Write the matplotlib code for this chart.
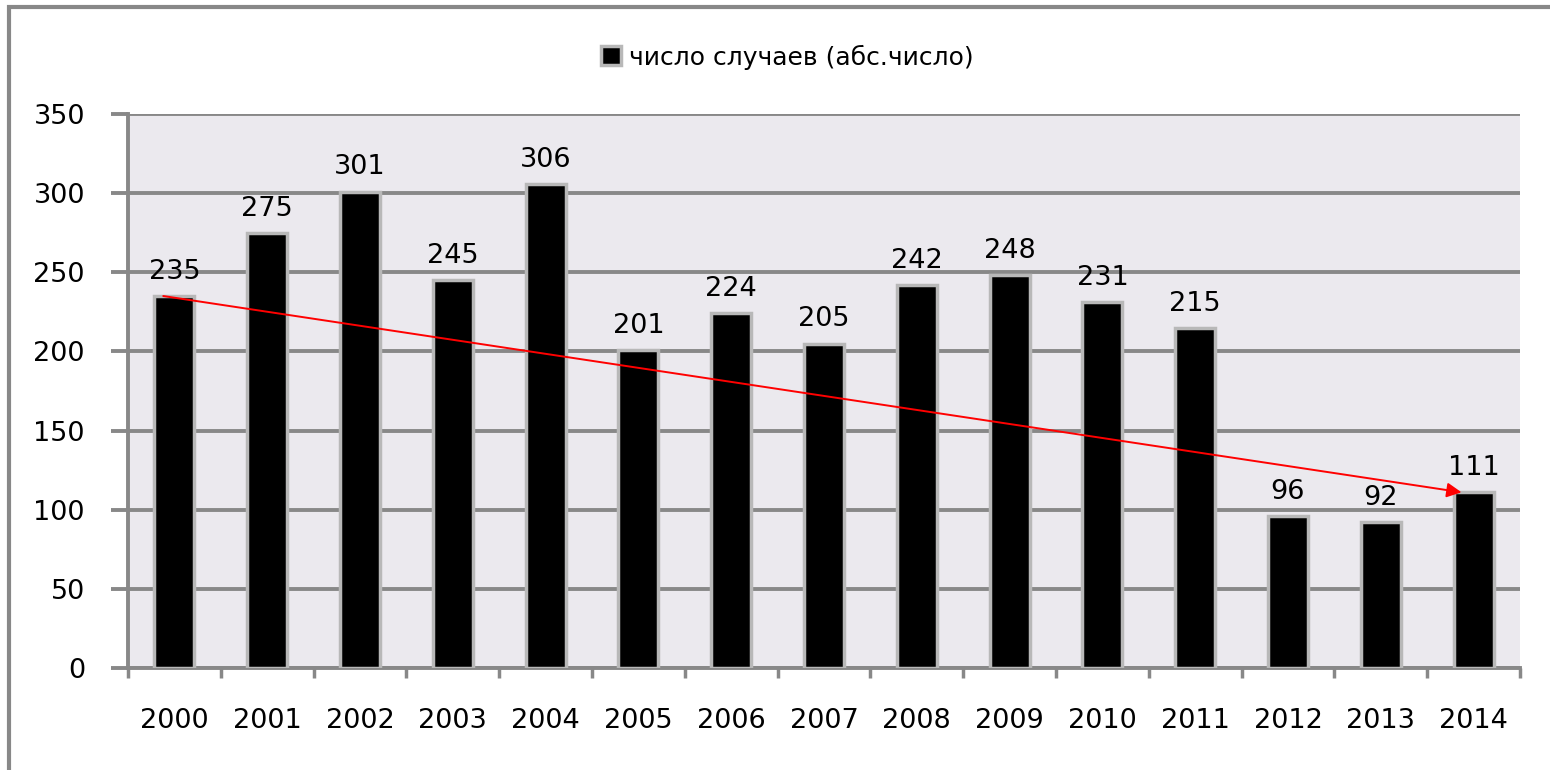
import matplotlib
matplotlib.use('Agg')
import matplotlib.pyplot as plt
from matplotlib.patches import Rectangle

# --- данные ---
years = ['2000', '2001', '2002', '2003', '2004', '2005', '2006', '2007',
         '2008', '2009', '2010', '2011', '2012', '2013', '2014']
cases = [235, 275, 301, 245, 306, 201, 224, 205, 242, 248, 231, 215, 96, 92, 111]
series_name = 'число случаев (абс.число)'

plt.rcParams['font.family'] = ['DejaVu Sans']

fig = plt.figure(figsize=(15.5, 7.7), dpi=100)
ax = fig.add_axes([128 / 1550, 1 - 668 / 770, 1392 / 1550, 554 / 770])
ax.set_facecolor('#ebe9ee')

x = list(range(len(years)))
ax.bar(x, cases, width=0.43, color='black', edgecolor='#b8b8b8',
       linewidth=2.5, label=series_name, zorder=3)

# подписи значений
for xi, v in zip(x, cases):
    ax.annotate(str(v), (xi, v), xytext=(0, 8), textcoords='offset points',
                ha='center', va='bottom', fontsize=19.5, color='black', zorder=5)

# линия тренда (стрелка)
ax.annotate('', xy=(len(years) - 1 - 0.13, cases[-1]), xytext=(-0.12, cases[0]),
            arrowprops=dict(arrowstyle='-|>', color='red', lw=1.4,
                            mutation_scale=22, shrinkA=0, shrinkB=0),
            zorder=6)

# оси
ax.set_xlim(-0.5, len(years) - 0.5)
ax.set_ylim(0, 350)
ax.set_yticks(range(0, 351, 50))
ax.yaxis.grid(True, color='#888888', linewidth=2.8)
ax.set_axisbelow(True)

ax.set_xticks([i - 0.5 for i in range(len(years) + 1)])
ax.set_xticklabels([])
ax.set_xticks(x, minor=True)
ax.set_xticklabels(years, minor=True)
ax.tick_params(axis='x', which='major', length=7, width=2.5, color='#888888')
ax.tick_params(axis='x', which='minor', length=0, pad=29, labelsize=19.5)
ax.tick_params(axis='y', length=12, width=2.8, color='#888888', pad=19, labelsize=19.5)

for s in ['top', 'right']:
    ax.spines[s].set_visible(False)
for s in ['left', 'bottom']:
    ax.spines[s].set_color('#888888')
    ax.spines[s].set_linewidth(2.8)

ax.legend(loc='center', bbox_to_anchor=(0.508, 1 - 57 / 770),
          bbox_transform=fig.transFigure, frameon=False, fontsize=18,
          handlelength=0.8, handleheight=0.8, handletextpad=0.3)

# рамка диаграммы
fig.patches.append(Rectangle((9 / 1550, -0.1), 2, 1.1 - 7 / 770,
                             transform=fig.transFigure, fill=False,
                             edgecolor='#888888', linewidth=3))

fig.savefig('out.png', dpi=100)
